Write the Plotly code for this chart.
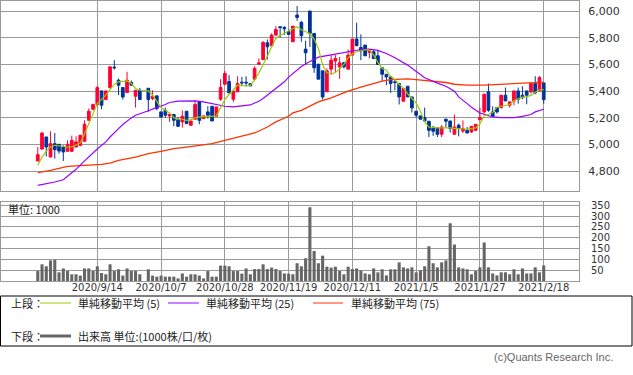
import plotly.graph_objects as go

# ---------------- data ----------------
tick_index = [14, 29, 44, 59, 74, 89, 104, 119]
tick_dates = ["2020/9/14", "2020/10/7", "2020/10/28", "2020/11/19",
              "2020/12/11", "2021/1/5", "2021/1/27", "2021/2/18"]

# index 25 = 2020/10/1 (no trading)
opens = [4877, 4967, 5057, 4907, 5007, 5002, 4982, 4950, 4950, 4982,
         4995, 5025, 5182, 5265, 5300, 5402, 5337, 5427, 5580, 5482,
         5427, 5390, 5465, 5362, 5407, None, 5422, 5345, 5365, 5245,
         5257, 5215, 5225, 5187, 5170, 5250, 5145, 5190, 5320, 5195,
         5245, 5287, 5212, 5340, 5452, 5472, 5340, 5395, 5467, 5467,
         5457, 5490, 5602, 5637, 5762, 5740, 5820, 5882, 5877, 5845,
         5770, 5970, 5915, 5715, 6000, 5832, 5602, 5552, 5395, 5565,
         5625, 5582, 5612, 5565, 5670, 5790, 5727, 5745, 5690, 5695,
         5665, 5575, 5527, 5507, 5470, 5457, 5325, 5437, 5357, 5250,
         5215, 5202, 5175, 5132, 5125, 5077, 5190, 5177, 5077, 5145,
         5102, 5107, 5095, 5107, 5187, 5245, 5395, 5245, 5277, 5277,
         5370, 5295, 5327, 5402, 5370, 5402, 5395, 5457, 5402, 5462]
highs = [4982, 5092, 5060, 5100, 5087, 5005, 4995, 5032, 5067, 5062,
         5070, 5182, 5270, 5307, 5437, 5405, 5402, 5585, 5632, 5495,
         5427, 5545, 5480, 5407, 5425, None, 5422, 5407, 5365, 5245,
         5277, 5227, 5225, 5207, 5257, 5250, 5177, 5332, 5320, 5215,
         5287, 5287, 5282, 5490, 5552, 5520, 5400, 5512, 5507, 5512,
         5457, 5587, 5645, 5775, 5787, 5832, 5887, 5887, 5887, 5862,
         5887, 6037, 5927, 5777, 6000, 5832, 5602, 5552, 5570, 5670,
         5670, 5657, 5620, 5712, 5790, 5912, 5825, 5745, 5707, 5707,
         5707, 5575, 5527, 5507, 5490, 5457, 5420, 5437, 5357, 5250,
         5215, 5277, 5175, 5132, 5125, 5145, 5195, 5177, 5225, 5157,
         5182, 5132, 5137, 5152, 5277, 5382, 5457, 5287, 5277, 5370,
         5427, 5320, 5402, 5427, 5437, 5402, 5457, 5512, 5512, 5462]
lows = [4877, 4962, 4912, 4905, 4895, 4932, 4877, 4945, 4945, 4980,
        4987, 5020, 5177, 5257, 5295, 5265, 5332, 5420, 5562, 5370,
        5337, 5390, 5440, 5277, 5337, None, 5245, 5332, 5257, 5202,
        5202, 5170, 5137, 5132, 5127, 5157, 5140, 5190, 5152, 5195,
        5195, 5177, 5207, 5327, 5452, 5387, 5320, 5395, 5437, 5437,
        5437, 5482, 5595, 5632, 5637, 5732, 5815, 5802, 5820, 5820,
        5770, 5927, 5770, 5595, 5732, 5537, 5490, 5337, 5395, 5527,
        5540, 5492, 5570, 5565, 5670, 5740, 5632, 5665, 5645, 5640,
        5600, 5477, 5445, 5387, 5407, 5300, 5325, 5357, 5240, 5202,
        5190, 5177, 5057, 5065, 5057, 5057, 5127, 5090, 5077, 5062,
        5087, 5087, 5087, 5102, 5182, 5232, 5245, 5207, 5232, 5270,
        5327, 5277, 5295, 5307, 5340, 5302, 5382, 5377, 5402, 5307]
closes = [4925, 5087, 4982, 5007, 4962, 4952, 4945, 5002, 5032, 5020,
          5070, 5152, 5250, 5300, 5427, 5295, 5402, 5582, 5575, 5445,
          5357, 5482, 5445, 5407, 5337, None, 5337, 5362, 5270, 5207,
          5220, 5227, 5182, 5137, 5212, 5157, 5177, 5300, 5182, 5215,
          5220, 5177, 5282, 5427, 5532, 5387, 5400, 5457, 5462, 5462,
          5440, 5570, 5612, 5765, 5732, 5820, 5862, 5877, 5867, 5825,
          5887, 5952, 5815, 5687, 5832, 5575, 5490, 5357, 5552, 5632,
          5645, 5612, 5582, 5670, 5790, 5740, 5702, 5665, 5707, 5645,
          5600, 5527, 5507, 5457, 5465, 5357, 5420, 5357, 5275, 5220,
          5190, 5177, 5107, 5100, 5077, 5132, 5175, 5120, 5132, 5120,
          5120, 5087, 5137, 5152, 5202, 5377, 5257, 5212, 5245, 5370,
          5327, 5320, 5402, 5340, 5352, 5370, 5457, 5387, 5502, 5337]
volume = [46, 77, 68, 95, 98, 40, 58, 46, 31, 31,
          25, 58, 58, 46, 68, 37, 31, 77, 46, 54,
          25, 58, 46, 46, 31, None, 54, 25, 20, 25,
          20, 20, 20, 12, 35, 20, 31, 31, 25, 12,
          46, 20, 20, 71, 71, 68, 46, 46, 34, 58,
          31, 55, 55, 77, 55, 62, 55, 46, 35, 34,
          31, 82, 68, 105, 340, 138, 82, 117, 66, 62,
          66, 46, 31, 66, 55, 58, 48, 35, 31, 58,
          40, 54, 26, 54, 54, 86, 63, 58, 63, 40,
          49, 68, 160, 82, 63, 86, 95, 266, 169, 63,
          58, 54, 31, 46, 63, 178, 63, 35, 26, 40,
          40, 31, 54, 31, 58, 35, 35, 63, 40, 72]
ma5 = [4845, 4907, 4952, 4982, 4995, 4990, 4982, 4982, 4982, 4995,
       5012, 5082, 5152, 5232, 5307, 5337, 5370, 5412, 5452, 5470,
       5475, 5477, 5457, 5420, 5407, 5407, 5402, 5370, 5320, 5277,
       5257, 5237, 5202, 5190, 5190, 5182, 5187, 5200, 5207, 5212,
       5212, 5212, 5215, 5277, 5337, 5375, 5412, 5445, 5445, 5437,
       5445, 5482, 5537, 5595, 5662, 5732, 5795, 5820, 5832, 5852,
       5870, 5882, 5860, 5845, 5832, 5790, 5720, 5595, 5537, 5527,
       5540, 5567, 5600, 5650, 5680, 5695, 5700, 5710, 5707, 5670,
       5615, 5570, 5557, 5510, 5487, 5450, 5425, 5380, 5345, 5310,
       5250, 5170, 5130, 5125, 5125, 5125, 5127, 5125, 5122, 5120,
       5117, 5115, 5120, 5125, 5155, 5215, 5227, 5240, 5280, 5287,
       5292, 5300, 5330, 5345, 5355, 5357, 5370, 5392, 5410, 5412]
ma25_idx = [0, 2, 4, 6, 8, 9, 11, 12, 14, 16, 17, 19, 20, 22, 23, 25, 26, 28,
            30, 31, 33, 35, 37, 39, 41, 42, 44, 46, 48, 50, 52, 53, 55, 56,
            58, 59, 61, 62, 64, 66, 69, 71, 73, 76, 78, 80, 82, 84, 87, 89,
            91, 94, 96, 98, 99, 101, 102, 104, 105, 107, 109, 112, 114, 116,
            117, 119]
ma25 = [4695, 4707, 4720, 4737, 4785, 4815, 4878, 4910, 4967, 5020, 5057,
        5120, 5150, 5200, 5220, 5242, 5255, 5277, 5300, 5315, 5325, 5327,
        5327, 5320, 5305, 5297, 5287, 5282, 5287, 5297, 5325, 5345, 5395,
        5420, 5470, 5505, 5560, 5585, 5622, 5655, 5672, 5682, 5695, 5712,
        5715, 5705, 5682, 5650, 5595, 5545, 5500, 5460, 5437, 5400, 5357,
        5307, 5280, 5237, 5225, 5207, 5202, 5202, 5212, 5225, 5245, 5265]
ma75_idx = [0, 3, 7, 11, 15, 17, 19, 23, 26, 29, 32, 35, 38, 41, 44, 48, 51,
            54, 56, 59, 60, 62, 64, 66, 69, 71, 73, 76, 78, 81, 83, 85, 87,
            89, 91, 94, 96, 98, 101, 105, 109, 112, 114, 117, 119]
ma75 = [4790, 4807, 4837, 4845, 4852, 4862, 4882, 4907, 4932, 4950, 4970,
        4982, 4995, 5007, 5032, 5062, 5087, 5132, 5170, 5212, 5237, 5257,
        5287, 5320, 5350, 5375, 5400, 5430, 5450, 5475, 5487, 5490, 5492,
        5487, 5480, 5470, 5465, 5452, 5445, 5445, 5450, 5452, 5460, 5464,
        5467]

legend_top = "上段："
legend_bottom = "下段："
ma_labels = ["単純移動平均 (5)", "単純移動平均 (25)", "単純移動平均 (75)"]
volume_label = "出来高 単位:(1000株/口/枚)"
unit_label = "単位: 1000"
credit = "(c)Quants Research Inc."

# ---------------- styles ----------------
RED = "#FF0033"
BLUE = "#003399"
C_MA5 = "#99CC00"
C_MA25 = "#9900FF"
C_MA75 = "#FF3300"
C_VOL = "#666666"
GRID = "#999999"
TXT = "#333333"
NUM_FONT = "DejaVu Sans"
JP_FONT = "Noto Sans CJK JP"

W, H = 633, 375
PL, PR, PT, PB = 1, 579, 1, 281


def px(x):
    return (x - PL) / (PR - PL)


def py(y):
    return (PB - y) / (PB - PT)


cx = [i for i in range(len(opens)) if opens[i] is not None]
vx = [i for i in range(len(volume)) if volume[i] is not None]

fig = go.Figure()
fig.add_trace(go.Candlestick(
    x=cx,
    open=[opens[i] for i in cx], high=[highs[i] for i in cx],
    low=[lows[i] for i in cx], close=[closes[i] for i in cx],
    increasing=dict(line=dict(color=RED, width=1), fillcolor=RED),
    decreasing=dict(line=dict(color=BLUE, width=1), fillcolor=BLUE),
    whiskerwidth=0, showlegend=False, hoverinfo="skip",
    xaxis="x", yaxis="y"))
fig.add_trace(go.Scatter(x=ma75_idx, y=ma75, mode="lines",
                         line=dict(color=C_MA75, width=1.3),
                         showlegend=False, xaxis="x", yaxis="y"))
fig.add_trace(go.Scatter(x=ma25_idx, y=ma25, mode="lines",
                         line=dict(color=C_MA25, width=1.2),
                         showlegend=False, xaxis="x", yaxis="y"))
fig.add_trace(go.Scatter(x=list(range(len(ma5))), y=ma5, mode="lines",
                         line=dict(color=C_MA5, width=1.2),
                         showlegend=False, xaxis="x", yaxis="y"))
fig.add_trace(go.Bar(x=vx, y=[volume[i] for i in vx], width=0.72,
                     marker=dict(color=C_VOL, line=dict(width=0)),
                     showlegend=False, xaxis="x2", yaxis="y2"))

xr = [-8.65, 127.3]
common_x = dict(range=xr, tickmode="array", tickvals=tick_index,
                showgrid=True, gridcolor=GRID, gridwidth=1, zeroline=False,
                showline=True, linecolor=GRID, linewidth=1, mirror=True,
                fixedrange=True, automargin=False)

fig.update_layout(
    width=W, height=H,
    margin=dict(l=PL, r=W - PR, t=PT, b=H - PB, pad=0, autoexpand=False),
    paper_bgcolor="white", plot_bgcolor="white",
    boxgap=0.25, boxgroupgap=0.15,
    xaxis=dict(common_x, domain=[0, 1], anchor="y", showticklabels=False,
               rangeslider=dict(visible=False)),
    yaxis=dict(domain=[py(190.7), 1], anchor="x", side="right",
               range=[4655, 6075], tickmode="array",
               tickvals=[4800, 5000, 5200, 5400, 5600, 5800, 6000],
               tickformat=",d", showgrid=True, gridcolor=GRID, zeroline=False,
               showline=True, linecolor=GRID, mirror=True, automargin=False,
               ticks="outside", ticklen=6, tickcolor="rgba(0,0,0,0)",
               tickfont=dict(family=NUM_FONT, size=11, color=TXT)),
    xaxis2=dict(common_x, domain=[0, 1], anchor="y2", ticktext=tick_dates,
                ticks="", ticklabelstandoff=-3,
                tickfont=dict(family=NUM_FONT, size=10, color=TXT)),
    yaxis2=dict(domain=[0, py(201.7)], anchor="x2", side="right",
                range=[0, 366], tickmode="array",
                tickvals=[50, 100, 150, 200, 250, 300, 350],
                showgrid=True, gridcolor=GRID, zeroline=False,
                showline=True, linecolor=GRID, mirror=True, automargin=False,
                ticks="outside", ticklen=9, tickcolor="rgba(0,0,0,0)",
                tickfont=dict(family=NUM_FONT, size=10, color=TXT)),
)

shapes = [dict(type="rect", xref="paper", yref="paper",
               x0=px(0.5), x1=px(632), y0=py(296), y1=py(346),
               line=dict(color="#000000", width=1), fillcolor="rgba(0,0,0,0)")]
annos = []
row1, row2 = 303, 336
annos.append(dict(text=legend_top, x=px(9), y=py(row1)))
annos.append(dict(text=legend_bottom, x=px(9), y=py(row2)))
for (x0, x1, tx), col, lab in zip([(40, 71, 76), (168, 199, 204), (313, 343, 349)],
                                  [C_MA5, C_MA25, C_MA75], ma_labels):
    shapes.append(dict(type="line", xref="paper", yref="paper",
                       x0=px(x0), x1=px(x1), y0=py(row1), y1=py(row1),
                       line=dict(color=col, width=1)))
    annos.append(dict(text=lab, x=px(tx), y=py(row1)))
shapes.append(dict(type="line", xref="paper", yref="paper",
                   x0=px(40), x1=px(71), y0=py(row2), y1=py(row2),
                   line=dict(color=C_VOL, width=3)))
annos.append(dict(text=volume_label, x=px(76), y=py(row2)))
annos.append(dict(text=unit_label, x=px(6), y=py(209)))

for a in annos:
    a.update(xref="paper", yref="paper", xanchor="left", yanchor="middle",
             showarrow=False, font=dict(family=JP_FONT, size=11, color="#222222"))
annos.append(dict(text=credit, x=px(615), y=py(357), xref="paper", yref="paper",
                  xanchor="right", yanchor="middle", showarrow=False,
                  font=dict(family="Liberation Sans", size=11, color="#666666")))

fig.update_layout(shapes=shapes, annotations=annos)
fig.write_html("out.html",
               config={"displayModeBar": False},
               post_script="document.body.style.margin='0';"
                           "document.body.style.padding='0';")
